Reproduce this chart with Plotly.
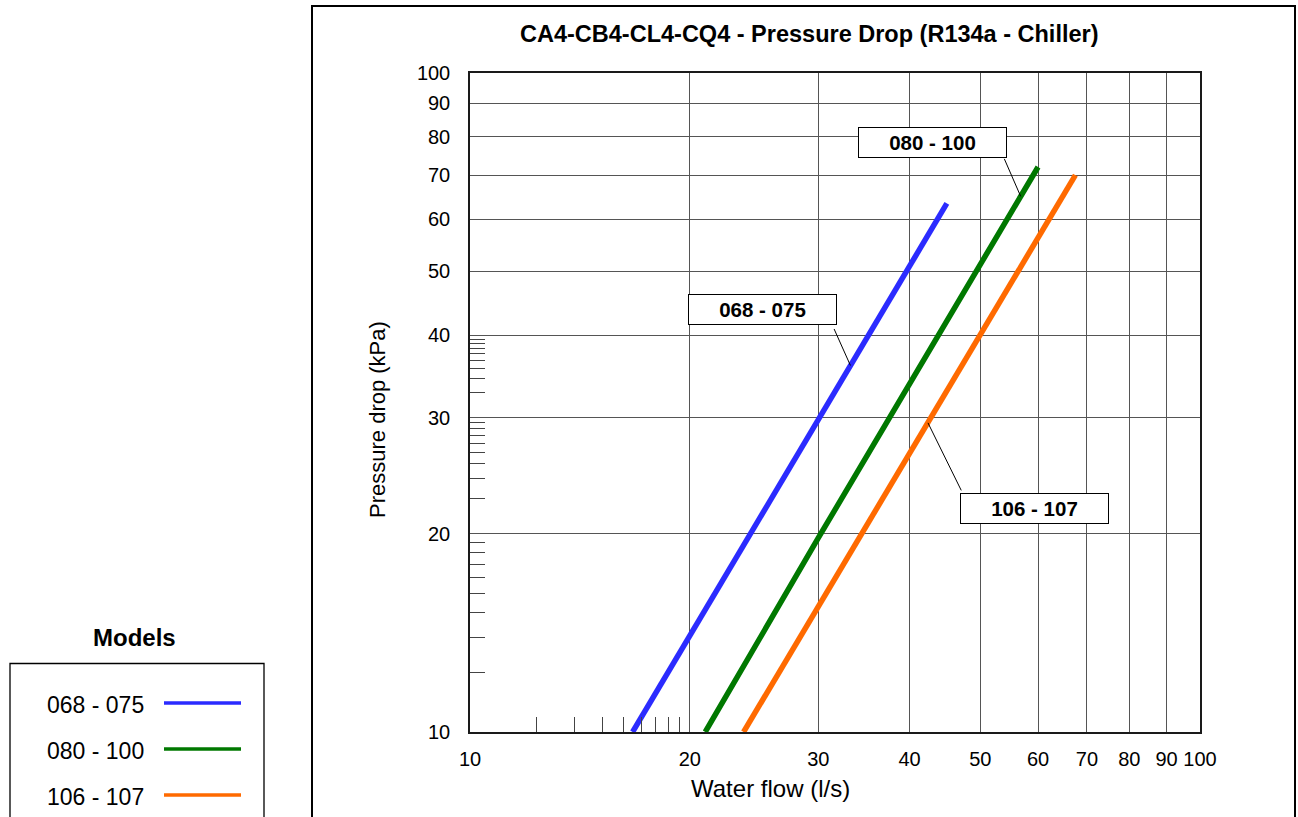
import numpy as np
import plotly.graph_objects as go

# ---- data -------------------------------------------------------------
models = ["068 - 075", "080 - 100", "106 - 107"]
colors = ["#2b2bff", "#007800", "#ff6a00"]

# water flow (l/s) and pressure drop (kPa) along each model's curve
flow_068_075 = [16.7, 30.0, 45.0]
dp_068_075 = [10.0, 29.8, 63.4]
flow_080_100 = [21.0, 30.0, 60.0]
dp_080_100 = [10.0, 19.7, 72.0]
flow_106_107 = [23.7, 50.0, 67.5]
dp_106_107 = [10.0, 40.0, 70.0]

flows = [flow_068_075, flow_080_100, flow_106_107]
drops = [dp_068_075, dp_080_100, dp_106_107]

# flow at which each label's leader line touches its curve
callout_flow = [33.2, 56.8, 42.4]

x_ticks = [10, 20, 30, 40, 50, 60, 70, 80, 90, 100]
y_ticks = [10, 20, 30, 40, 50, 60, 70, 80, 90, 100]

# ---- helpers ------------------------------------------------------------
L, R, T, B = 470, 1200, 73, 732  # plot area in page pixels


def px(x):
    return (x - L) / (R - L)


def py(y):
    return (B - y) / (B - T)


def sub_ticks(a, b):
    """Log-style subdivision of the interval [a, b]."""
    return [a * (b / a) ** np.log10(k) for k in range(2, 10)]


x_minor = sub_ticks(10, 20)
y_minor = sub_ticks(10, 20) + sub_ticks(20, 30) + sub_ticks(30, 40)

FONT = "Arial, Liberation Sans, sans-serif"

fig = go.Figure()
for name, col, fx, dy in zip(models, colors, flows, drops):
    fig.add_trace(go.Scatter(x=fx, y=dy, mode="lines", name=name,
                             line=dict(color=col, width=5.5),
                             showlegend=False, hoverinfo="skip"))

axis_common = dict(
    type="log", range=[1, 2], showline=True, mirror=True,
    linecolor="#1a1a1a", linewidth=1.5, showgrid=True,
    gridcolor="#555555", gridwidth=1, ticks="", zeroline=False,
    tickfont=dict(family=FONT, size=20, color="#000"),
)

fig.update_xaxes(**axis_common, tickvals=x_ticks,
                 ticktext=[str(v) for v in x_ticks], ticklabelstandoff=8,
                 minor=dict(tickmode="array", tickvals=x_minor, ticks="inside",
                            ticklen=15, tickwidth=1, tickcolor="#444",
                            showgrid=False))
fig.update_yaxes(**axis_common, tickvals=y_ticks,
                 ticktext=[str(v) for v in y_ticks], ticklabelstandoff=14,
                 minor=dict(tickmode="array", tickvals=y_minor, ticks="inside",
                            ticklen=15, tickwidth=1, tickcolor="#444",
                            showgrid=False))

annotations = []
shapes = []

# chart title
annotations.append(dict(text="<b>CA4-CB4-CL4-CQ4 - Pressure Drop (R134a - Chiller)</b>",
                        x=px(809), y=py(34), xref="paper", yref="paper",
                        showarrow=False, xanchor="center", yanchor="middle",
                        font=dict(family=FONT, size=23.5, color="#000")))

# axis titles
annotations.append(dict(text="Water flow (l/s)", x=px(770), y=py(789),
                        xref="paper", yref="paper", showarrow=False,
                        xanchor="center", yanchor="middle",
                        font=dict(family=FONT, size=24, color="#000")))
annotations.append(dict(text="Pressure drop (kPa)", x=px(377), y=py(420),
                        xref="paper", yref="paper", showarrow=False,
                        xanchor="center", yanchor="middle", textangle=-90,
                        font=dict(family=FONT, size=22, color="#000")))

# curve labels with leader lines
box_centers = [(762, 309), (932, 142), (1034, 508.5)]
tails = [(-17, -38), (-17, -39), (34, 69)]
for name, fx, dy, cf, (cx, cy), (ax, ay) in zip(models, flows, drops,
                                                  callout_flow, box_centers, tails):
    ly = np.interp(np.log10(cf), np.log10(fx), np.log10(dy))
    annotations.append(dict(text="", x=np.log10(cf), y=ly, xref="x", yref="y",
                            showarrow=True, arrowhead=0, arrowwidth=1,
                            arrowcolor="#000", ax=ax, ay=ay,
                            standoff=0, startstandoff=0))
    annotations.append(dict(text="<b>%s</b>" % name, x=px(cx), y=py(cy),
                            xref="paper", yref="paper", showarrow=False,
                            xanchor="center", yanchor="middle",
                            width=147, height=29, borderpad=0,
                            bgcolor="#fff", bordercolor="#000", borderwidth=1,
                            font=dict(family=FONT, size=20.5, color="#000")))

# legend panel
annotations.append(dict(text="<b>Models</b>", x=px(134), y=py(637),
                        xref="paper", yref="paper", showarrow=False,
                        xanchor="center", yanchor="middle",
                        font=dict(family=FONT, size=24, color="#000")))
shapes.append(dict(type="rect", xref="paper", yref="paper",
                   x0=px(10), x1=px(264), y0=py(663.5), y1=py(840),
                   line=dict(color="#000", width=1.3), fillcolor="rgba(0,0,0,0)"))
for i, (name, col) in enumerate(zip(models, colors)):
    yy = 703 + 46 * i
    annotations.append(dict(text=name, x=px(146), y=py(yy + 2),
                            xref="paper", yref="paper", showarrow=False,
                            xanchor="right", yanchor="middle",
                            font=dict(family=FONT, size=23, color="#000")))
    shapes.append(dict(type="line", xref="paper", yref="paper",
                       x0=px(164), x1=px(241), y0=py(yy), y1=py(yy),
                       line=dict(color=col, width=3.5)))

# outer frame of the chart
shapes.append(dict(type="rect", xref="paper", yref="paper",
                   x0=px(312), x1=px(1295), y0=py(840), y1=py(6),
                   line=dict(color="#000", width=2), fillcolor="rgba(0,0,0,0)",
                   layer="below"))

fig.update_layout(
    width=1298, height=817,
    margin=dict(l=L, r=1298 - R, t=T, b=817 - B, pad=0),
    paper_bgcolor="#fff", plot_bgcolor="#fff",
    annotations=annotations, shapes=shapes, showlegend=False,
    font=dict(family=FONT, color="#000"),
)

fig.write_html("out.html")
